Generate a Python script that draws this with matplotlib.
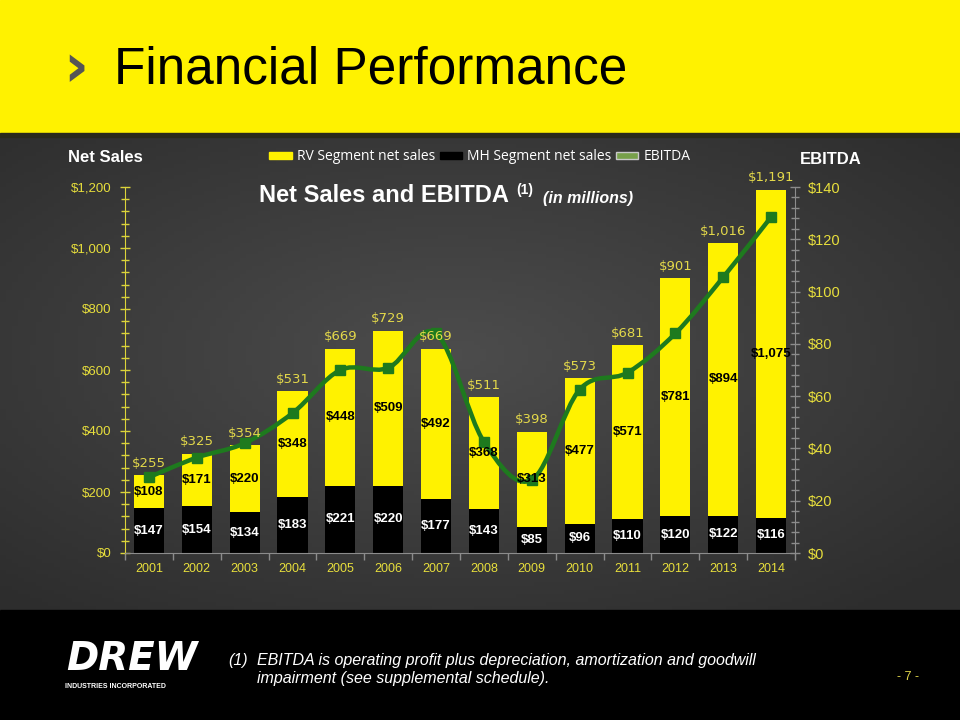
import numpy as np
import matplotlib
matplotlib.use('Agg')
import matplotlib.pyplot as plt
from matplotlib.patches import Rectangle, Patch, PathPatch
from matplotlib.path import Path
from matplotlib.ticker import MultipleLocator, FuncFormatter
from matplotlib import font_manager

plt.rcParams['font.family'] = ['Liberation Sans', 'DejaVu Sans']

# data (in millions)
years = ['2001', '2002', '2003', '2004', '2005', '2006', '2007',
         '2008', '2009', '2010', '2011', '2012', '2013', '2014']
mh_sales = [147, 154, 134, 183, 221, 220, 177, 143, 85, 96, 110, 120, 122, 116]
rv_sales = [108, 171, 220, 348, 448, 509, 492, 368, 313, 477, 571, 781, 894, 1075]
total_sales = [255, 325, 354, 531, 669, 729, 669, 511, 398, 573, 681, 901, 1016, 1191]
ebitda = [29, 36.5, 42, 53.5, 70, 70.8, 84, 42.5, 28, 62.5, 69, 84, 105.5, 128.5]

W, H = 960, 720
fig = plt.figure(figsize=(9.6, 7.2), dpi=100)

def fy(py):
    return 1 - py / H

# narrow font for the footnote if it is there
names = {f.name for f in font_manager.fontManager.ttflist}
if 'Liberation Sans Narrow' in names:
    note_font, note_size = 'Liberation Sans Narrow', 13.5
else:
    note_font, note_size = 'Liberation Sans', 11.5

# background: yellow header, grey gradient body, black footer
bg = fig.add_axes([0, 0, 1, 1], zorder=-10)
bg.set_xlim(0, W)
bg.set_ylim(H, 0)
bg.axis('off')
yy, xx = np.mgrid[0:120, 0:160]
r = np.hypot((xx - 75) / 110.0, (yy - 55) / 80.0)
g = np.clip(0.30 - 0.12 * r, 0.18, 0.30)
bg.imshow(np.dstack([g, g, g]), extent=[0, W, 610, 136], aspect='auto', zorder=0)
bg.add_patch(Rectangle((0, 0), W, 134, color='#FFF200', zorder=1))
bg.add_patch(Rectangle((0, 133), W, 4, color='#2a2a1c', zorder=1))
bg.add_patch(Rectangle((0, 610), W, 110, color='#000000', zorder=1))

fig.text(63 / W, fy(70), '›', fontsize=44, fontweight='bold', color='#555555',
         family='DejaVu Sans', va='center', ha='left')
fig.text(114 / W, fy(84), 'Financial Performance', fontsize=37, color='#000000',
         va='baseline', ha='left')

# main axes
ax = fig.add_axes([125 / W, fy(553), (795 - 125) / W, (553 - 187) / H])
ax.patch.set_visible(False)
x = np.arange(len(years))
bw = 0.63
ax.bar(x, mh_sales, bw, color='#000000', zorder=2)
ax.bar(x, rv_sales, bw, bottom=mh_sales, color='#FFF200', zorder=2)
ax.set_xlim(-0.5, len(years) - 0.5)
ax.set_ylim(0, 1200)

ax.yaxis.set_major_locator(MultipleLocator(200))
ax.yaxis.set_minor_locator(MultipleLocator(40))
ax.yaxis.set_major_formatter(FuncFormatter(lambda v, p: '${:,.0f}'.format(v)))
ax.tick_params(axis='y', which='both', direction='inout', colors='#DCD43A',
               labelcolor='#E8DF3C', labelsize=9.5, width=1, pad=6)
ax.tick_params(axis='y', which='major', length=7)
ax.tick_params(axis='y', which='minor', length=6)
ax.set_xticks(x)
ax.set_xticklabels(years)
ax.set_xticks(np.arange(-0.5, len(years)), minor=True)
ax.tick_params(axis='x', which='major', length=0, labelcolor='#E8DF3C',
               labelsize=9, pad=7)
ax.tick_params(axis='x', which='minor', length=5, direction='out',
               color='#8c8c8c', width=1)
ax.spines['left'].set_color('#DCD43A')
ax.spines['bottom'].set_color('#8c8c8c')
ax.spines['top'].set_visible(False)
ax.spines['right'].set_visible(False)

# EBITDA axis
ax2 = ax.twinx()
ax2.set_ylim(0, 140)
ax2.yaxis.set_major_locator(MultipleLocator(20))
ax2.yaxis.set_minor_locator(MultipleLocator(4))
ax2.yaxis.set_major_formatter(FuncFormatter(lambda v, p: '${:,.0f}'.format(v)))
ax2.tick_params(axis='y', which='both', direction='inout', colors='#8c8c8c',
                labelcolor='#E8DF3C', labelsize=10.5, width=1, pad=6)
ax2.tick_params(axis='y', which='major', length=7)
ax2.tick_params(axis='y', which='minor', length=6)
for s in ['left', 'top', 'bottom']:
    ax2.spines[s].set_visible(False)
ax2.spines['right'].set_color('#8c8c8c')

# smoothed EBITDA line (Catmull-Rom as cubic Bezier)
pts = np.column_stack([x, ebitda]).astype(float)
verts = [pts[0]]
codes = [Path.MOVETO]
n = len(pts)
for i in range(n - 1):
    p0 = pts[max(i - 1, 0)]
    p1 = pts[i]
    p2 = pts[i + 1]
    p3 = pts[min(i + 2, n - 1)]
    c1 = p1 + (p2 - p0) / 6.0
    c2 = p2 - (p3 - p1) / 6.0
    verts += [c1, c2, p2]
    codes += [Path.CURVE4] * 3
ax2.add_patch(PathPatch(Path(verts, codes), fill=False, edgecolor='#1e7a1e',
                        lw=3.2, zorder=3, capstyle='round', joinstyle='round'))
ax2.plot(x, ebitda, 's', color='#1e7a1e', markersize=7, zorder=4)

# data labels
for i in range(len(years)):
    ax2.text(x[i], mh_sales[i] / 2, '${}'.format(mh_sales[i]), transform=ax.transData,
             ha='center', va='center', color='white', fontsize=9.5,
             fontweight='bold', zorder=6)
    ax2.text(x[i], mh_sales[i] + rv_sales[i] / 2, '${:,}'.format(rv_sales[i]),
             transform=ax.transData, ha='center', va='center', color='black',
             fontsize=9.5, fontweight='bold', zorder=6)
    ax2.text(x[i], total_sales[i] + 18, '${:,}'.format(total_sales[i]),
             transform=ax.transData, ha='center', va='bottom', color='#E3D84A',
             fontsize=9.5, zorder=6, family='DejaVu Sans')

# axis titles and chart title
fig.text(68 / W, fy(157), 'Net Sales', fontsize=12, fontweight='bold',
         color='white', va='center')
fig.text(800 / W, fy(160), 'EBITDA', fontsize=12, fontweight='bold',
         color='white', va='center')
fig.text(259 / W, fy(196), 'Net Sales and EBITDA', fontsize=17, fontweight='bold',
         color='white', va='center')
fig.text(516 / W, fy(190), '(1)', fontsize=10, fontweight='bold',
         color='white', va='center')
fig.text(543 / W, fy(198), '(in millions)', fontsize=11.5, fontweight='bold',
         style='italic', color='white', va='center')

# legend
handles = [Patch(facecolor='#FFF200', edgecolor='#FFF200'),
           Patch(facecolor='#000000', edgecolor='#000000'),
           Patch(facecolor='#77a04a', edgecolor='#c8c8c8')]
leg = fig.legend(handles, ['RV Segment net sales', 'MH Segment net sales', 'EBITDA'],
                 loc='center', bbox_to_anchor=(480 / W, fy(157)), ncol=3,
                 frameon=False, labelcolor='white',
                 handlelength=1.6, handleheight=0.45, handletextpad=0.4,
                 columnspacing=0.3, prop={'family': 'Open Sans', 'size': 10})

# footer
fig.text(66 / W, fy(670), 'DREW', fontsize=28, fontweight='bold', style='italic',
         color='white', va='baseline', family='DejaVu Sans')
fig.text(65 / W, fy(688), 'INDUSTRIES INCORPORATED', fontsize=5, fontweight='bold',
         color='white', va='baseline')
fig.text(228 / W, fy(660), '(1)', fontsize=note_size, style='italic', color='white',
         va='center', family=note_font)
fig.text(257 / W, fy(660), 'EBITDA is operating profit plus depreciation, amortization and goodwill',
         fontsize=note_size, style='italic', color='white', va='center', family=note_font)
fig.text(257 / W, fy(678), 'impairment (see supplemental schedule).',
         fontsize=note_size, style='italic', color='white', va='center', family=note_font)
fig.text(908 / W, fy(677), '- 7 -', fontsize=9, color='#E3D84A', va='center',
         ha='center')

fig.savefig('out.png', dpi=100)
